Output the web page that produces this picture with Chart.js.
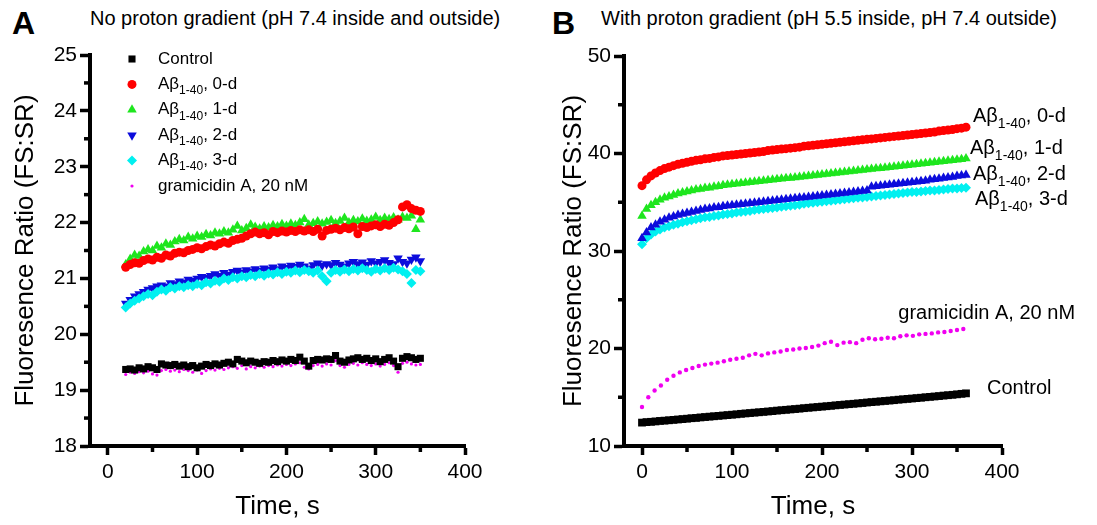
<!DOCTYPE html>
<html>
<head>
<meta charset="utf-8">
<script src="https://cdn.jsdelivr.net/npm/chart.js@4.4.1/dist/chart.umd.min.js"></script>
<style>
  body { margin: 0; background: #fff; width: 1097px; height: 525px; position: relative; overflow: hidden;
         font-family: "Liberation Sans", Arial, sans-serif; color: #000; }
  .box { position: absolute; top: 0; height: 525px; }
  #boxA { left: 0; width: 548px; }
  #boxB { left: 548px; width: 549px; }
  .letter { position: absolute; font-weight: bold; font-size: 32px; line-height: 1; }
  .head { position: absolute; font-size: 20px; line-height: 1; white-space: nowrap; }
</style>
</head>
<body>
<div class="letter" style="left:12px;top:7px">A</div>
<div class="head" style="left:90px;top:8px">No proton gradient (pH 7.4 inside and outside)</div>
<div class="letter" style="left:552px;top:7px">B</div>
<div class="head" style="left:601px;top:8px">With proton gradient (pH 5.5 inside, pH 7.4 outside)</div>
<div class="box" id="boxA"><canvas id="chartA" width="548" height="525"></canvas></div>
<div class="box" id="boxB"><canvas id="chartB" width="549" height="525"></canvas></div>
<script>
// axes
const xTicks = [0, 100, 200, 300, 400];
const xMinor = [50, 150, 250, 350];
const yTicksA = [18, 19, 20, 21, 22, 23, 24, 25];
const yMinorA = [18.5, 19.5, 20.5, 21.5, 22.5, 23.5, 24.5];
const yTicksB = [10, 20, 30, 40, 50];
const yMinorB = [15, 25, 35, 45];

const seriesNames = ['Control', 'Aβ1-40, 0-d', 'Aβ1-40, 1-d', 'Aβ1-40, 2-d', 'Aβ1-40, 3-d', 'gramicidin A, 20 nM'];

// panel A: time (s)
const timeA = [
  20, 25, 30, 35, 40, 45, 50, 55, 60, 65,
  70, 75, 80, 85, 90, 95, 100, 105, 110, 115,
  120, 125, 130, 135, 140, 145, 150, 155, 160, 165,
  170, 175, 180, 185, 190, 195, 200, 205, 210, 215,
  220, 225, 230, 235, 240, 245, 250, 255, 260, 265,
  270, 275, 280, 285, 290, 295, 300, 305, 310, 315,
  320, 325, 330, 335, 340, 345, 350
];
const controlA = [
  19.37, 19.38, 19.36, 19.40, 19.38, 19.42, 19.40, 19.37, 19.47, 19.45,
  19.44, 19.46, 19.43, 19.45, 19.42, 19.44, 19.40, 19.43, 19.46, 19.44,
  19.47, 19.45, 19.48, 19.50, 19.47, 19.55, 19.52, 19.49, 19.52, 19.50,
  19.48, 19.51, 19.50, 19.53, 19.51, 19.54, 19.52, 19.55, 19.53, 19.59,
  19.52, 19.43, 19.53, 19.55, 19.54, 19.56, 19.55, 19.62, 19.52, 19.50,
  19.54, 19.56, 19.58, 19.55, 19.57, 19.53, 19.56, 19.51, 19.55, 19.58,
  19.52, 19.42, 19.57, 19.60, 19.58, 19.55, 19.57
];
const abeta0A = [
  21.20, 21.25, 21.28, 21.27, 21.32, 21.35, 21.33, 21.38, 21.36, 21.42,
  21.40, 21.45, 21.47, 21.46, 21.50, 21.52, 21.55, 21.53, 21.57, 21.60,
  21.58, 21.62, 21.65, 21.63, 21.68, 21.70, 21.72, 21.76, 21.80, 21.83,
  21.80, 21.82, 21.78, 21.84, 21.82, 21.85, 21.83, 21.86, 21.84, 21.87,
  21.85, 21.87, 21.84, 21.88, 21.76, 21.86, 21.88, 21.90, 21.87, 21.91,
  21.89, 21.92, 21.80, 21.93, 21.91, 21.94, 21.96, 21.93, 21.97, 21.95,
  22.00, 22.05, 22.28, 22.32, 22.25, 22.22, 22.20
];
const abeta1A = [
  21.25, 21.35, 21.42, 21.40, 21.48, 21.52, 21.50, 21.58, 21.55, 21.62,
  21.60, 21.66, 21.70, 21.68, 21.74, 21.71, 21.76, 21.74, 21.79, 21.77,
  21.82, 21.80, 21.84, 21.82, 21.87, 21.94, 21.86, 21.90, 21.96, 21.92,
  21.89, 21.93, 21.91, 21.95, 21.93, 21.97, 21.94, 21.98, 21.95, 22.00,
  22.06, 21.96, 21.99, 22.02, 21.98, 22.01, 22.04, 21.99, 22.03, 22.08,
  22.00, 22.04, 22.02, 22.07, 22.03, 22.05, 22.10, 22.04, 22.08, 22.06,
  22.09, 22.05, 22.10, 22.08, 22.12, 21.88, 22.05
];
const abeta2A = [
  20.55, 20.62, 20.68, 20.72, 20.76, 20.80, 20.83, 20.86, 20.88, 20.86,
  20.92, 20.90, 20.95, 20.93, 20.98, 20.96, 21.00, 21.03, 21.01, 21.05,
  21.08, 21.05, 21.10, 21.07, 21.12, 21.14, 21.11, 21.15, 21.13, 21.17,
  21.14, 21.18, 21.16, 21.20, 21.17, 21.22, 21.19, 21.23, 21.21, 21.25,
  21.22, 21.18, 21.24, 21.27, 21.23, 21.26, 21.24, 21.28, 21.25, 21.22,
  21.27, 21.30, 21.26, 21.29, 21.25, 21.31, 21.27, 21.30, 21.33, 21.28,
  21.26, 21.36, 21.30, 21.27, 21.34, 21.38, 21.31
];
const abeta3A = [
  20.48, 20.55, 20.60, 20.64, 20.68, 20.72, 20.70, 20.76, 20.80, 20.78,
  20.84, 20.82, 20.86, 20.84, 20.88, 20.86, 20.90, 20.88, 20.93, 20.91,
  20.96, 20.94, 21.00, 20.97, 21.02, 21.00, 21.04, 21.02, 21.06, 21.04,
  21.08, 21.05, 21.09, 21.07, 21.11, 21.08, 21.12, 21.10, 21.14, 21.11,
  21.15, 21.13, 21.10, 21.14, 21.04, 20.95, 21.10, 21.15, 21.12, 21.16,
  21.13, 21.17, 21.14, 21.18, 21.15, 21.12, 21.17, 21.14, 21.18, 21.15,
  21.19, 21.16, 21.13, 21.08, 20.92, 21.15, 21.13
];
const gramA = [
  19.28, 19.32, 19.30, 19.33, 19.31, 19.34, 19.29, 19.27, 19.35, 19.37,
  19.34, 19.36, 19.33, 19.37, 19.35, 19.32, 19.36, 19.30, 19.35, 19.38,
  19.36, 19.39, 19.37, 19.40, 19.42, 19.39, 19.44, 19.38, 19.42, 19.40,
  19.43, 19.41, 19.44, 19.42, 19.45, 19.43, 19.46, 19.44, 19.47, 19.49,
  19.41, 19.38, 19.44, 19.46, 19.43, 19.47, 19.45, 19.53, 19.44, 19.41,
  19.46, 19.48, 19.45, 19.49, 19.46, 19.44, 19.47, 19.43, 19.46, 19.49,
  19.44, 19.32, 19.48, 19.50, 19.47, 19.45, 19.46
];

// panel B: time (s)
const timeB = [
  0, 5, 10, 15, 20, 25, 30, 35, 40, 45,
  50, 55, 60, 65, 70, 75, 80, 85, 90, 95,
  100, 105, 110, 115, 120, 125, 130, 135, 140, 145,
  150, 155, 160, 165, 170, 175, 180, 185, 190, 195,
  200, 205, 210, 215, 220, 225, 230, 235, 240, 245,
  250, 255, 260, 265, 270, 275, 280, 285, 290, 295,
  300, 305, 310, 315, 320, 325, 330, 335, 340, 345,
  350, 355, 360
];
const controlB = [
  12.40, 12.45, 12.48, 12.52, 12.57, 12.60, 12.64, 12.68, 12.72, 12.76,
  12.80, 12.85, 12.88, 12.93, 12.97, 13.01, 13.05, 13.09, 13.13, 13.17,
  13.21, 13.25, 13.30, 13.34, 13.38, 13.42, 13.46, 13.50, 13.54, 13.58,
  13.63, 13.67, 13.71, 13.75, 13.79, 13.83, 13.88, 13.92, 13.96, 14.00,
  14.04, 14.08, 14.12, 14.17, 14.21, 14.25, 14.29, 14.33, 14.37, 14.41,
  14.46, 14.50, 14.54, 14.58, 14.62, 14.66, 14.70, 14.75, 14.79, 14.83,
  14.87, 14.91, 14.95, 15.00, 15.04, 15.08, 15.12, 15.17, 15.21, 15.25,
  15.30, 15.35, 15.40
];
const abeta0B = [
  36.7, 37.3, 37.7, 38.0, 38.25, 38.45, 38.6, 38.75, 38.9, 39.0,
  39.1, 39.2, 39.3, 39.35, 39.45, 39.5, 39.6, 39.65, 39.75, 39.8,
  39.85, 39.9, 39.95, 40.0, 40.05, 40.1, 40.15, 40.2, 40.3, 40.35,
  40.4, 40.45, 40.5, 40.55, 40.6, 40.65, 40.75, 40.8, 40.85, 40.9,
  40.95, 41.0, 41.05, 41.1, 41.15, 41.2, 41.25, 41.3, 41.35, 41.4,
  41.45, 41.5, 41.55, 41.6, 41.65, 41.7, 41.75, 41.8, 41.85, 41.9,
  41.95, 42.0, 42.05, 42.1, 42.15, 42.2, 42.3, 42.35, 42.4, 42.45,
  42.55, 42.6, 42.7
];
const abeta1B = [
  33.6, 34.3, 34.7, 35.0, 35.25, 35.45, 35.6, 35.75, 35.9, 36.0,
  36.1, 36.2, 36.3, 36.35, 36.45, 36.5, 36.6, 36.65, 36.75, 36.8,
  36.85, 36.9, 36.95, 37.0, 37.05, 37.1, 37.15, 37.2, 37.25, 37.3,
  37.35, 37.4, 37.45, 37.5, 37.55, 37.6, 37.65, 37.7, 37.75, 37.8,
  37.85, 37.9, 37.95, 38.0, 38.05, 38.1, 38.15, 38.2, 38.25, 38.3,
  38.35, 38.4, 38.45, 38.5, 38.55, 38.6, 38.65, 38.7, 38.75, 38.8,
  38.85, 38.9, 38.95, 39.0, 39.05, 39.1, 39.15, 39.2, 39.25, 39.3,
  39.35, 39.4, 39.5
];
const abeta2B = [
  31.3, 31.9, 32.4, 32.7, 33.0, 33.2, 33.4, 33.55, 33.7, 33.8,
  33.9, 34.0, 34.1, 34.2, 34.3, 34.35, 34.45, 34.5, 34.6, 34.65,
  34.7, 34.75, 34.8, 34.85, 34.9, 34.95, 35.0, 35.05, 35.1, 35.15,
  35.2, 35.25, 35.3, 35.35, 35.4, 35.45, 35.5, 35.55, 35.6, 35.65,
  35.7, 35.75, 35.8, 35.85, 35.9, 35.95, 36.0, 36.05, 36.1, 36.15,
  36.2, 36.6, 36.65, 36.7, 36.75, 36.8, 36.85, 36.9, 36.95, 37.0,
  37.05, 37.1, 37.15, 37.2, 37.3, 37.35, 37.4, 37.5, 37.55, 37.6,
  37.7, 37.75, 37.8
];
const abeta3B = [
  30.7, 31.3, 31.7, 32.0, 32.2, 32.4, 32.55, 32.7, 32.8, 32.95,
  33.05, 33.15, 33.25, 33.35, 33.45, 33.5, 33.6, 33.65, 33.75, 33.8,
  33.85, 33.95, 34.0, 34.05, 34.1, 34.2, 34.25, 34.3, 34.35, 34.4,
  34.45, 34.55, 34.6, 34.65, 34.7, 34.75, 34.85, 34.9, 34.95, 35.0,
  35.05, 35.1, 35.15, 35.2, 35.25, 35.3, 35.35, 35.4, 35.45, 35.5,
  35.55, 35.6, 35.65, 35.7, 35.75, 35.8, 35.85, 35.9, 35.95, 36.0,
  36.05, 36.05, 36.1, 36.15, 36.2, 36.2, 36.25, 36.3, 36.35, 36.4,
  36.4, 36.45, 36.5
];
// gramicidin in B was sampled more sparsely
const timeGramB = [
  0, 7, 14, 21, 28, 35, 42, 49, 56, 63,
  70, 77, 84, 91, 98, 105, 112, 119, 126, 133,
  140, 147, 154, 161, 168, 175, 182, 189, 196, 203,
  210, 217, 224, 231, 238, 245, 252, 259, 266, 273,
  280, 287, 294, 301, 308, 315, 322, 329, 336, 343,
  350, 357
];
const gramB = [
  14.0, 15.0, 15.7, 16.2, 16.8, 17.2, 17.55, 17.8, 18.0, 18.2,
  18.35, 18.45, 18.55, 18.7, 18.85, 18.95, 19.05, 19.3, 19.45, 19.3,
  19.5, 19.6, 19.7, 19.85, 19.9, 20.0, 20.05, 20.15, 20.3, 20.55,
  20.7, 20.35, 20.6, 20.65, 20.55, 20.9, 21.05, 20.95, 21.0, 21.1,
  21.05, 21.25, 21.35, 21.3, 21.45, 21.5, 21.55, 21.65, 21.7, 21.8,
  21.9, 22.0
];

const FONT = '"Liberation Sans", Arial, sans-serif';
Chart.defaults.font.family = FONT;
Chart.defaults.color = '#000';

const colors = ['#000000', '#ff0000', '#1ee61e', '#0c0cdc', '#00f0f0', '#f000f0'];

function pairs(xs, ys) {
  return xs.map((x, i) => ({ x, y: ys[i] }));
}

function makeSets(xsList, ysList, marks) {
  return ysList.map((ys, i) => ({
    label: seriesNames[i],
    data: pairs(xsList[i], ys),
    backgroundColor: colors[i],
    borderWidth: 0,
    pointStyle: marks[i].style,
    pointRadius: marks[i].r,
    pointRotation: marks[i].rot || 0,
    order: marks[i].order || 0,
    clip: false
  }));
}

// "Aβ1-40, 0-d" -> Aβ + subscript 1-40 + rest
function drawName(ctx, text, x, y, size) {
  ctx.textAlign = 'left';
  ctx.textBaseline = 'middle';
  ctx.fillStyle = '#000';
  const m = text.match(/^(Aβ)(1-40)(.*)$/);
  ctx.font = size + 'px ' + FONT;
  if (!m) { ctx.fillText(text, x, y); return; }
  ctx.fillText(m[1], x, y);
  x += ctx.measureText(m[1]).width;
  ctx.font = Math.round(size * 0.7) + 'px ' + FONT;
  ctx.fillText(m[2], x, y + size * 0.38);
  x += ctx.measureText(m[2]).width;
  ctx.font = size + 'px ' + FONT;
  ctx.fillText(m[3], x, y);
}

const minorTicks = {
  id: 'minorTicks',
  afterDraw(chart, args, opts) {
    const { ctx, chartArea, scales } = chart;
    ctx.save();
    ctx.strokeStyle = '#000';
    ctx.lineWidth = 3.5;
    opts.x.forEach(v => {
      const px = scales.x.getPixelForValue(v);
      ctx.beginPath(); ctx.moveTo(px, chartArea.bottom); ctx.lineTo(px, chartArea.bottom + 6); ctx.stroke();
    });
    opts.y.forEach(v => {
      const py = scales.y.getPixelForValue(v);
      ctx.beginPath(); ctx.moveTo(chartArea.left, py); ctx.lineTo(chartArea.left - 6, py); ctx.stroke();
    });
    ctx.restore();
  }
};

const symbolLegend = {
  id: 'symbolLegend',
  afterDraw(chart, args, opts) {
    if (!opts.show) return;
    const ctx = chart.ctx;
    ctx.save();
    chart.data.datasets.forEach((ds, i) => {
      const y = opts.top + i * opts.gap;
      ctx.fillStyle = ds.backgroundColor;
      Chart.helpers.drawPoint(ctx, { pointStyle: ds.pointStyle, radius: ds.pointRadius, rotation: ds.pointRotation, borderWidth: 0 }, opts.markerX, y);
      drawName(ctx, ds.label, opts.textX, y, opts.size);
    });
    ctx.restore();
  }
};

const endLabels = {
  id: 'endLabels',
  afterDraw(chart, args, opts) {
    if (!opts.show) return;
    const ctx = chart.ctx;
    ctx.save();
    chart.data.datasets.forEach((ds, i) => {
      const pts = chart.getDatasetMeta(i).data;
      const last = pts[pts.length - 1];
      const off = opts.offsets[i];
      drawName(ctx, ds.label, last.x + off[0], last.y + off[1], opts.size);
    });
    ctx.restore();
  }
};

function buildPanel(canvasId, datasets, yMin, yMax, yTicks, yMinor, yWidth, pad, plugOpts) {
  const ctx = document.getElementById(canvasId).getContext('2d');
  return new Chart(ctx, {
    type: 'scatter',
    data: { datasets },
    plugins: [minorTicks, symbolLegend, endLabels],
    options: {
      responsive: false,
      animation: false,
      devicePixelRatio: 1,
      events: [],
      layout: { padding: pad },
      plugins: {
        legend: { display: false },
        tooltip: { enabled: false },
        minorTicks: { x: xMinor, y: yMinor },
        symbolLegend: plugOpts.legend || { show: false },
        endLabels: plugOpts.labels || { show: false }
      },
      scales: {
        x: {
          type: 'linear', min: -20, max: 400,
          afterBuildTicks: s => { s.ticks = xTicks.map(v => ({ value: v })); },
          afterFit: s => { s.height = 79; },
          grid: { drawOnChartArea: false, drawTicks: true, tickLength: 9, tickWidth: 3.5, tickColor: '#000' },
          border: { display: true, width: 4, color: '#000' },
          ticks: { color: '#000', font: { size: 21 }, padding: 5, maxRotation: 0 },
          title: { display: true, text: 'Time, s', color: '#000', font: { size: 26 }, padding: { top: 0, bottom: 3 } }
        },
        y: {
          type: 'linear', min: yMin, max: yMax,
          afterBuildTicks: s => { s.ticks = yTicks.map(v => ({ value: v })); },
          afterFit: s => { s.width = yWidth; },
          grid: { drawOnChartArea: false, drawTicks: true, tickLength: 10, tickWidth: 3.5, tickColor: '#000' },
          border: { display: true, width: 4, color: '#000' },
          ticks: { color: '#000', font: { size: 21 }, padding: 3 },
          title: { display: true, text: 'Fluoresence Ratio (FS:SR)', color: '#000', font: { size: 26 }, padding: { top: 10, bottom: 0 } }
        }
      }
    }
  });
}

const marksA = [
  { style: 'rect', r: 5 },
  { style: 'circle', r: 4.5 },
  { style: 'triangle', r: 5.5 },
  { style: 'triangle', r: 5.5, rot: 180 },
  { style: 'rectRot', r: 5, order: -1 },
  { style: 'circle', r: 1.6 }
];
const marksB = [
  { style: 'rect', r: 5.5 },
  { style: 'circle', r: 4.5 },
  { style: 'triangle', r: 5.5 },
  { style: 'triangle', r: 5.5 },
  { style: 'rectRot', r: 5 },
  { style: 'circle', r: 2.2 }
];

const setsA = makeSets(
  [timeA, timeA, timeA, timeA, timeA, timeA],
  [controlA, abeta0A, abeta1A, abeta2A, abeta3A, gramA],
  marksA
);
const setsB = makeSets(
  [timeB, timeB, timeB, timeB, timeB, timeGramB],
  [controlB, abeta0B, abeta1B, abeta2B, abeta3B, gramB],
  marksB
);

buildPanel('chartA', setsA, 18, 25, yTicksA, yMinorA, 90,
  { left: 0, right: 83, top: 55, bottom: 0 },
  { legend: { show: true, markerX: 132, textX: 158, top: 59, gap: 25.4, size: 17 } });

buildPanel('chartB', setsB, 10, 50, yTicksB, yMinorB, 76,
  { left: 0, right: 95, top: 56, bottom: 0 },
  { labels: { show: true, size: 20, offsets: [[21, -5], [7, -11], [4, -10], [7, 0], [9, 12], [-65, -16]] } });
</script>
</body>
</html>
